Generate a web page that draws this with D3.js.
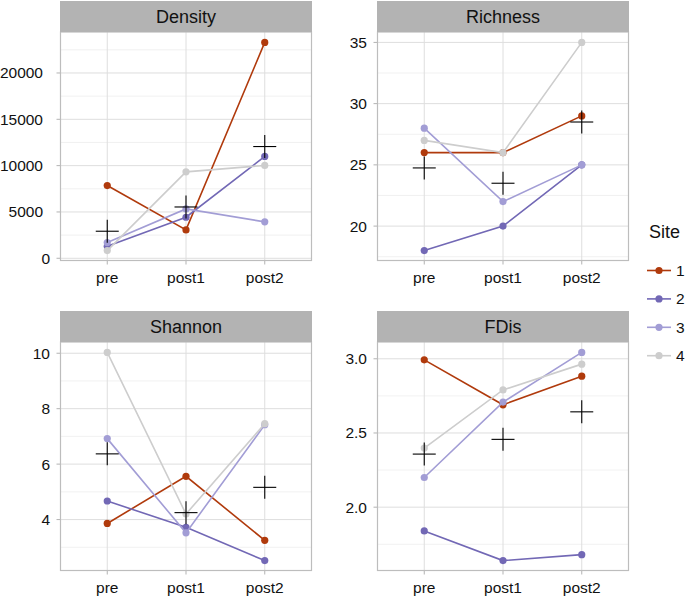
<!DOCTYPE html>
<html><head><meta charset="utf-8">
<script src="https://cdn.jsdelivr.net/npm/d3@7"></script>
<style>
html,body{margin:0;padding:0;background:#fff;}
svg{display:block;font-family:"Liberation Sans",Arial,Helvetica,sans-serif;}
</style></head>
<body>
<svg id="chart" width="685" height="597"></svg>
<script>
const categories = ["pre", "post1", "post2"];
const sites = ["1", "2", "3", "4"];
const siteColors = ["#B03A0C", "#7268B5", "#A29DD5", "#CDCDCD"];
const panelNames = ["Density", "Richness", "Shannon", "FDis"];

// values per site: [pre, post1, post2]
const density = [[7850, 3060, 23300], [1300, 4430, 10990], [1700, 5330, 3930], [830, 9330, 10020]];
const richness = [[26, 26, 29], [18, 20, 25], [28, 22, 25], [27, 26, 35]];
const shannon = [[3.86, 5.56, 3.25], [4.67, 3.72, 2.52], [6.92, 3.52, 7.42], [10.03, 4.20, 7.46]];
const fdis = [[2.993, 2.69, 2.883], [1.84, 1.64, 1.68], [2.20, 2.708, 3.043], [2.398, 2.79, 2.964]];

const densityTicks = [0, 5000, 10000, 15000, 20000];
const densityMinor = [2500, 7500, 12500, 17500, 22500];
const richnessTicks = [20, 25, 30, 35];
const richnessMinor = [17.5, 22.5, 27.5, 32.5];
const shannonTicks = [4, 6, 8, 10];
const shannonMinor = [3, 5, 7, 9];
const fdisTicks = [2.0, 2.5, 3.0];
const fdisMinor = [1.75, 2.25, 2.75];

const panels = [
  {name: panelNames[0], data: density, ticks: densityTicks, minor: densityMinor, fmt: d => String(d)},
  {name: panelNames[1], data: richness, ticks: richnessTicks, minor: richnessMinor, fmt: d => String(d)},
  {name: panelNames[2], data: shannon, ticks: shannonTicks, minor: shannonMinor, fmt: d => String(d)},
  {name: panelNames[3], data: fdis, ticks: fdisTicks, minor: fdisMinor, fmt: d3.format(".1f")}
];

const svg = d3.select("#chart");
const colX = [60, 377], panelW = 252;
const rowTop = [32, 342], panelH = 229, stripH = 31;

const gridMajor = "#DEDEDE", gridMinor = "#EEEEEE", borderCol = "#BDBDBD";

panels.forEach((p, i) => {
  const x0 = colX[i % 2], y0 = rowTop[Math.floor(i / 2)];
  const g = svg.append("g").attr("transform", `translate(${x0},${y0})`);

  const x = d3.scalePoint().domain(categories).range([0, panelW]).padding(0.6);
  const all = p.data.flat();
  const ext = d3.extent(all);
  const pad = (ext[1] - ext[0]) * 0.05;
  const y = d3.scaleLinear().domain([ext[0] - pad, ext[1] + pad]).range([panelH, 0]);

  // grid
  g.selectAll(".minor").data(p.minor.filter(v => v >= y.domain()[0] && v <= y.domain()[1])).join("line")
    .attr("x1", 0).attr("x2", panelW).attr("y1", d => y(d)).attr("y2", d => y(d))
    .attr("stroke", gridMinor).attr("stroke-width", 0.8);
  g.selectAll(".major").data(p.ticks).join("line")
    .attr("x1", 0).attr("x2", panelW).attr("y1", d => y(d)).attr("y2", d => y(d))
    .attr("stroke", gridMajor).attr("stroke-width", 1);
  g.selectAll(".vmajor").data(categories).join("line")
    .attr("x1", d => x(d)).attr("x2", d => x(d)).attr("y1", 0).attr("y2", panelH)
    .attr("stroke", gridMajor).attr("stroke-width", 1);

  // lines + points per site, site 1 first
  const line = d3.line().x((d, j) => x(categories[j])).y(d => y(d));
  p.data.forEach((vals, s) => {
    g.append("path").attr("d", line(vals)).attr("fill", "none")
      .attr("stroke", siteColors[s]).attr("stroke-width", 1.6);
    g.selectAll(null).data(vals).join("circle")
      .attr("cx", (d, j) => x(categories[j])).attr("cy", d => y(d)).attr("r", 3.6)
      .attr("fill", siteColors[s]);
  });

  // means as crosses
  const means = categories.map((c, j) => d3.mean(p.data, v => v[j]));
  means.forEach((m, j) => {
    const cx = x(categories[j]), cy = y(m);
    g.append("line").attr("x1", cx - 11.5).attr("x2", cx + 11.5).attr("y1", cy).attr("y2", cy)
      .attr("stroke", "#000").attr("stroke-width", 1.1);
    g.append("line").attr("x1", cx).attr("x2", cx).attr("y1", cy - 11.5).attr("y2", cy + 11.5)
      .attr("stroke", "#000").attr("stroke-width", 1.1);
  });

  // border
  g.append("rect").attr("x", 0.5).attr("y", 0).attr("width", panelW - 1).attr("height", panelH - 0.5)
    .attr("fill", "none").attr("stroke", borderCol).attr("stroke-width", 1.2);

  // strip
  g.append("rect").attr("x", 0).attr("y", -stripH).attr("width", panelW).attr("height", stripH)
    .attr("fill", "#B3B3B3");
  g.append("text").attr("x", panelW / 2).attr("y", -stripH / 2).attr("dy", "0.35em")
    .attr("text-anchor", "middle").attr("font-size", 18).attr("fill", "#111").text(p.name);

  // y axis
  const yAxis = g.append("g");
  yAxis.selectAll("line").data(p.ticks).join("line")
    .attr("x1", -3.5).attr("x2", 0).attr("y1", d => y(d)).attr("y2", d => y(d))
    .attr("stroke", "#B3B3B3").attr("stroke-width", 1);
  yAxis.selectAll("text").data(p.ticks).join("text")
    .attr("x", d => (i === 0 && d !== 0) ? -17 : -10)
    .attr("y", d => y(d)).attr("dy", "0.35em").attr("text-anchor", "end")
    .attr("font-size", 15.5).attr("fill", "#111").text(p.fmt);

  // x axis
  const xAxis = g.append("g").attr("transform", `translate(0,${panelH})`);
  xAxis.selectAll("line").data(categories).join("line")
    .attr("x1", d => x(d)).attr("x2", d => x(d)).attr("y1", 0).attr("y2", 3.5)
    .attr("stroke", "#B3B3B3").attr("stroke-width", 1);
  xAxis.selectAll("text").data(categories).join("text")
    .attr("x", d => x(d)).attr("y", 17).attr("dy", "0.35em").attr("text-anchor", "middle")
    .attr("font-size", 15.5).attr("fill", "#111").text(d => d);
});

// legend
const leg = svg.append("g").attr("transform", "translate(647,232)");
leg.append("text").attr("x", 2).attr("y", 0).attr("dy", "0.35em")
  .attr("font-size", 18).attr("fill", "#111").text("Site");
sites.forEach((s, k) => {
  const yy = 38.5 + k * 28.4;
  leg.append("line").attr("x1", 0).attr("x2", 24).attr("y1", yy).attr("y2", yy)
    .attr("stroke", siteColors[k]).attr("stroke-width", 1.6);
  leg.append("circle").attr("cx", 12).attr("cy", yy).attr("r", 3.6).attr("fill", siteColors[k]);
  leg.append("text").attr("x", 29).attr("y", yy).attr("dy", "0.35em")
    .attr("font-size", 15.5).attr("fill", "#111").text(s);
});
</script>
</body></html>
